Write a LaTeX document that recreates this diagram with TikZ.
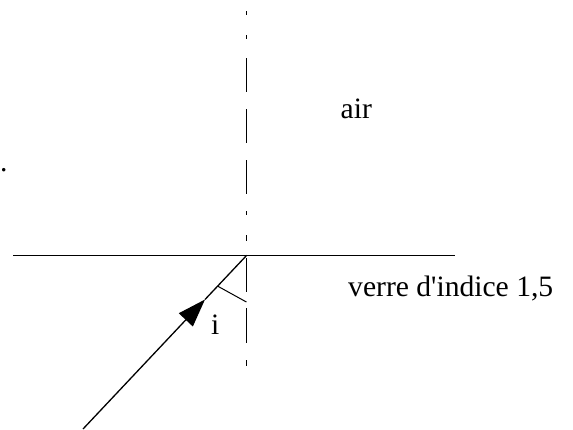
\documentclass[tikz,border=0pt]{standalone}
\usepackage{fontspec}
\setmainfont{Liberation Serif}
\usetikzlibrary{arrows.meta}
\begin{document}
\begin{tikzpicture}[x=1pt,y=-1pt,
  lbl/.style={anchor=base west,inner sep=0pt,font=\fontsize{29.6}{34}\selectfont},
  normalline/.style={line width=1pt, dash pattern=on 4pt off 20pt on 4pt off 19pt on 34pt off 17pt on 34pt off 17pt on 34pt off 17pt on 4pt off 20pt on 6pt off 17pt on 34pt off 16pt on 35pt off 17pt on 6pt off 100pt},
  surface/.style={line width=1.2pt},
  ray/.style={line width=1.3pt},
  marker/.style={line width=1pt}]
\useasboundingbox (0,0) rectangle (573,429);
\coordinate (I) at (246.7,255.3);
\coordinate (N1) at (246.7,11);
\coordinate (N2) at (246.7,366);
\coordinate (L) at (13,255.3);
\coordinate (R) at (455,255.3);
\coordinate (S) at (83,429);
\coordinate (A) at (205,299.5);
\coordinate (M1) at (217.6,286.1);
\coordinate (M2) at (246.4,302);
\draw[normalline] (N1) -- (N2);
\draw[surface] (L) -- (R);
\draw[ray,-{Triangle[length=28pt,width=19pt]}] (S) -- (A);
\draw[ray] (A) -- (I);
\draw[marker] (M1) -- (M2);
\node[lbl] (air) at (340.5,118) {air};
\node[lbl] (verre) at (348,296) {verre d\textquotesingle indice 1,5};
\node[lbl] (i) at (211,334) {i};
\node[lbl] (dot) at (0,171) {.};
\end{tikzpicture}
\end{document}
